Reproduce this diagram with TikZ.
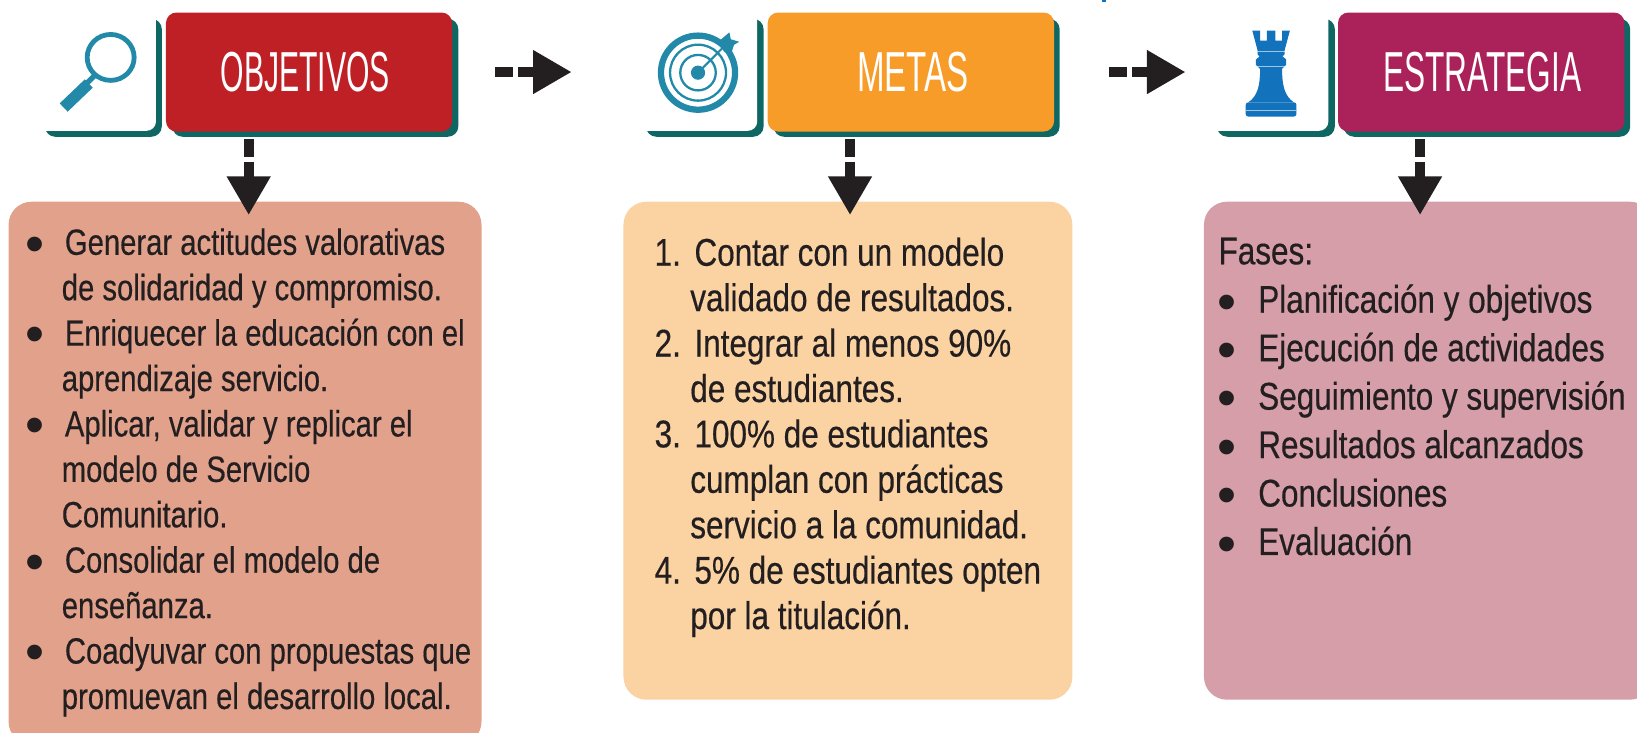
\documentclass[tikz,border=0pt]{standalone}
\usepackage{fontspec}
\setmainfont{Liberation Sans}
\newfontfamily\headobj[FakeStretch=0.535]{Liberation Sans}
\newfontfamily\headmeta[FakeStretch=0.587]{Liberation Sans}
\newfontfamily\headest[FakeStretch=0.561]{Liberation Sans}
\newfontfamily\bodyf[FakeStretch=0.8,FakeBold=0.4]{Liberation Sans}
\newfontfamily\bodyg[FakeStretch=0.815,FakeBold=0.4]{Liberation Sans}
\newfontfamily\bulf{Liberation Sans}
\usetikzlibrary{arrows.meta,calc}
\definecolor{inkc}{HTML}{231F20}
\definecolor{tealc}{HTML}{0F6763}
\definecolor{iconc}{HTML}{2389A9}
\definecolor{rookc}{HTML}{1272BC}
\definecolor{redc}{HTML}{BF2026}
\definecolor{orangec}{HTML}{F79C29}
\definecolor{magc}{HTML}{AB2159}
\definecolor{redl}{HTML}{E2A18B}
\definecolor{orangel}{HTML}{FBD2A2}
\definecolor{magl}{HTML}{D69EA9}
\newcommand\bigdot{\smash{\raisebox{-7pt}{\bulf\fontsize{52}{52}\selectfont\textbullet}}}
\newcommand\bul{\llap{\bigdot\hspace{17pt}}\hspace{3pt}}
\newcommand\bulg{\hspace{38pt}\llap{\bigdot\hspace{21pt}}}
\newcommand\numi[1]{\llap{#1\hspace{9pt}}\hspace{4pt}}
\tikzset{
  header/.style={rectangle,rounded corners=10pt,minimum height=114pt,inner sep=0pt,text=white},
  headtxt/.style={font=#1\fontsize{54}{54}\selectfont},
  shadowbox/.style={fill=tealc,rounded corners=10pt},
  panel/.style={rectangle,fill=white,rounded corners=9pt,inner sep=0pt},
  bigbox/.style={rectangle,rounded corners=22pt,inner sep=0pt},
  listtext/.style={inner sep=0pt,align=left,text=inkc,anchor=north west,
    font=\bodyf\fontsize{35}{43.5}\selectfont},
  flow/.style={draw=inkc,line width=9.5pt,dash pattern=on 17pt off 5pt on 60pt off 0pt,
    -{Triangle[length=37pt,width=39.5pt,fill=inkc]}},
}
\begin{document}
\begin{tikzpicture}[x=1pt,y=-1pt]
\useasboundingbox (0,0) rectangle (1568,702);
\clip (0,0) rectangle (1568,702);
% teal shadows
\fill[shadowbox] (43,18) rectangle (155,131);
\fill[shadowbox] (165,18) rectangle (439,131);
\fill[shadowbox] (618.7,18) rectangle (731.4,131);
\fill[shadowbox] (741,18) rectangle (1015,131);
\fill[shadowbox] (1165.6,18) rectangle (1278.6,131);
\fill[shadowbox] (1287,18) rectangle (1561.5,131);
% icon panels
\node[panel,minimum width=136.6pt,minimum height=125.5pt,anchor=south east] (objpanel) at (149.6,125.5) {};
\node[panel,minimum width=136.6pt,minimum height=125.5pt,anchor=south east] (metapanel) at (725.5,125.5) {};
\node[panel,minimum width=136.6pt,minimum height=125.5pt,anchor=south east] (estpanel) at (1272.6,125.5) {};
% headers
\node[header,fill=redc,minimum width=274pt,headtxt=\headobj] (obj) at (296,69) {\hspace*{-7pt}\raisebox{-2pt}{OBJETIVOS}};
\node[header,fill=orangec,minimum width=274.3pt,headtxt=\headmeta] (meta) at (872.5,69) {\hspace*{4pt}\raisebox{-2pt}{METAS}};
\node[header,fill=magc,minimum width=274.4pt,headtxt=\headest] (est) at (1418.8,69) {\hspace*{2pt}\raisebox{-2pt}{ESTRATEGIA}};
% boxes
\node[bigbox,fill=redl,minimum width=453pt,minimum height=520pt,anchor=north west] (objbox) at (8,193) {};
\node[bigbox,fill=orangel,minimum width=430pt,minimum height=477pt,anchor=north west] (metabox) at (597,193) {};
\node[bigbox,fill=magl,minimum width=430pt,minimum height=477pt,anchor=north west] (estbox) at (1153,193) {};
% connectors
\draw[flow,shorten <=41pt,shorten >=40.9pt] (obj.east) -- (obj.east -| metapanel.west);
\draw[flow,shorten <=52.3pt] (meta.east) -- (meta.east -| estpanel.west);
\coordinate (d1) at ($(objbox.north)+(3.5,13)$);
\coordinate (d2) at ($(metabox.north)+(2,13)$);
\coordinate (d3) at ($(estbox.north)+(-8,13)$);
\draw[flow,shorten <=7pt] (d1 |- obj.south) -- (d1);
\draw[flow,shorten <=7pt] (d2 |- meta.south) -- (d2);
\draw[flow,shorten <=7pt] (d3 |- est.south) -- (d3);
% texts
\node[listtext] (objtext) at (59,218.5) {\bul Generar actitudes valorativas\\de solidaridad y compromiso.\\\bul Enriquecer la educación con el\\aprendizaje servicio.\\\bul Aplicar, validar y replicar el\\modelo de Servicio\\Comunitario.\\\bul Consolidar el modelo de\\enseñanza.\\\bul Coadyuvar con propuestas que\\promuevan el desarrollo local.};
\node[listtext,font=\bodyg\fontsize{37}{43.5}\selectfont] (metatext) at (661,227.5) {\numi{1.}Contar con un modelo\\validado de resultados.\\\numi{2.}Integrar al menos 90\%\\de estudiantes.\\\numi{3.}100\% de estudiantes\\cumplan con prácticas\\servicio a la comunidad.\\\numi{4.}5\% de estudiantes opten\\por la titulación.};
\node[listtext,font=\bodyg\fontsize{37}{46.4}\selectfont] (esttext) at (1167,227.5) {Fases:\\\bulg Planificación y objetivos\\\bulg Ejecución de actividades\\\bulg Seguimiento y supervisión\\\bulg Resultados alcanzados\\\bulg Conclusiones\\\bulg Evaluación};
% magnifier
\draw[iconc,line width=4.6pt] (106,55) ellipse [x radius=22.5,y radius=22];
\draw[iconc,line width=5pt] (92,71) -- (83,80);
\draw[iconc,line width=11pt] (85,80) -- (61,103);
% target
\draw[iconc,line width=6pt] (668.6,69.6) circle (35.5);
\draw[iconc,line width=2.2pt] (668.6,69.6) circle (26.8);
\draw[iconc,line width=2.2pt] (668.6,69.6) circle (17);
\fill[iconc] (668.6,69.6) circle (6.8);
\draw[iconc,line width=2pt] (668.6,69.6) -- (692,46);
\fill[iconc] (688,40) -- (698.6,31) -- (700,37.6) -- (708,40) -- (703,43) -- (701,49.4) -- (694,50) -- cycle;
% rook
\begin{scope}[shift={(1217.5,0)}]
\fill[rookc] (-18,29.3) -- (-10.5,29.3) -- (-10.5,39) -- (-4.1,39) -- (-4.1,29.3) -- (4.1,29.3) -- (4.1,39) -- (10.5,39) -- (10.5,29.3) -- (18,29.3)
  -- (13,48) -- (13,52) -- (11,54) -- (14.5,57) -- (14.5,62) -- (10.5,66)
  .. controls (10.5,82) and (13,92) .. (21.7,98) -- (-21.7,98)
  .. controls (-13,92) and (-10.5,82) .. (-10.5,66) -- (-14.5,62) -- (-14.5,57) -- (-11,54) -- (-13,52) -- (-13,48) -- cycle;
\fill[rookc,rounded corners=2.5pt] (-24.3,98) rectangle (24.3,111.7);
\draw[white,opacity=.6,line width=.7pt] (-13,49.5) -- (13,49.5) (-14.5,63.5) -- (14.5,63.5) (-24.3,105.5) -- (24.3,105.5);
\end{scope}
% stray mark at the top edge
\fill[rookc] (1056,0) rectangle (1059,2);
\end{tikzpicture}
\end{document}
